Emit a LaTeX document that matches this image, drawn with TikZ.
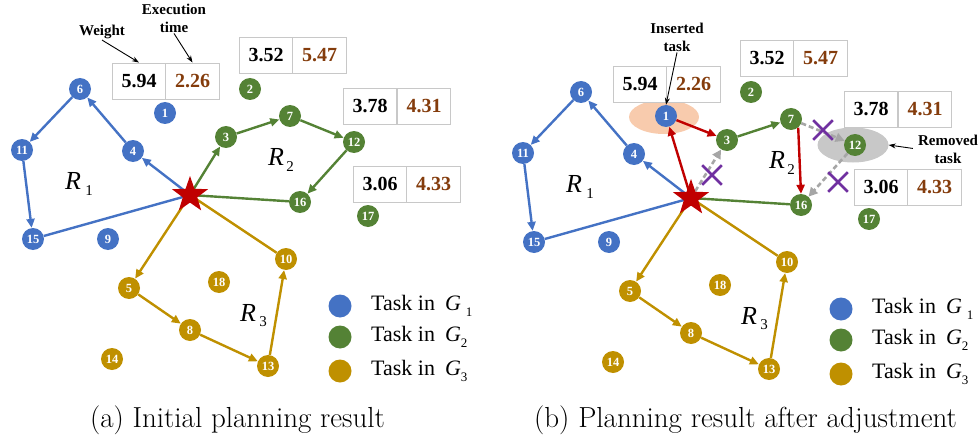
\documentclass[tikz,border=0pt]{standalone}
\usepackage{fontspec}
\newfontfamily\tnr{Liberation Serif}
\usetikzlibrary{shapes.geometric,shapes.misc,arrows.meta}
\definecolor{cb}{RGB}{68,114,196}
\definecolor{cg}{RGB}{84,130,53}
\definecolor{cy}{RGB}{191,144,0}
\definecolor{cr}{RGB}{192,0,0}
\definecolor{cbr}{RGB}{132,60,12}
\definecolor{cor}{RGB}{248,203,173}
\definecolor{cgy}{RGB}{200,200,200}
\definecolor{cdash}{RGB}{166,166,166}
\definecolor{cpu}{RGB}{112,48,160}
\definecolor{cbox}{RGB}{200,200,200}
\pgfdeclarelayer{back}
\pgfdeclarelayer{edges}
\pgfsetlayers{back,edges,main}
\tikzset{
 tk/.style={circle, minimum size=22pt, inner sep=0pt, text=white, font=\tnr\bfseries\fontsize{12.5}{12.5}\selectfont},
 tb/.style={tk, fill=cb}, tg/.style={tk, fill=cg}, ty/.style={tk, fill=cy},
 arr/.style={-{Triangle[length=9pt,width=8pt]}},
 eb/.style={draw=cb, line width=2.4pt},
 eg/.style={draw=cg, line width=2.4pt},
 ey/.style={draw=cy, line width=2.4pt},
 er/.style={draw=cr, line width=2.4pt, arr},
 edash/.style={draw=cdash, line width=2.6pt, dash pattern=on 5pt off 3pt, -{Triangle[length=9pt,width=9pt]}},
 cellw/.style={draw=cbox, line width=0.9pt, fill=white, minimum width=53.5pt, minimum height=36pt, inner sep=0pt, font=\tnr\bfseries\fontsize{20}{20}\selectfont},
 cellt/.style={cellw, text=cbr},
 depot/.style={star, star points=5, star point ratio=2.5, fill=cr, minimum size=38pt, inner sep=0pt},
 rlab/.style={font=\tnr\itshape\fontsize{26}{26}\selectfont, inner sep=0pt},
 rsub/.style={font=\tnr\fontsize{15}{15}\selectfont, inner sep=0pt},
 legdot/.style={circle, minimum size=23pt, inner sep=0pt},
 legtxt/.style={anchor=west, inner sep=0pt, font=\tnr\fontsize{22}{22}\selectfont},
 lbl/.style={font=\tnr\bfseries\fontsize{15}{18}\selectfont, align=center, inner sep=1pt},
 thinarr/.style={draw=black, line width=0.9pt, -{Stealth[length=7pt,width=5pt]}},
 xmark/.style={cross out, draw=cpu, line width=2.6pt, minimum size=17pt, inner sep=0pt},
 capt/.style={font=\fontsize{29}{32}\selectfont, inner sep=0pt}
}
\newcommand\panelcommon{%
 \node[depot] (dep) at (190,195) {};
 \node[tb] (n1) at (165,113) {1};
 \node[tg] (n2) at (250,89) {2};
 \node[tg] (n3) at (226,137) {3};
 \node[tb] (n4) at (133,151) {4};
 \node[ty] (n5) at (129,288) {5};
 \node[tb] (n6) at (80,89) {6};
 \node[tg] (n7) at (290,116) {7};
 \node[ty] (n8) at (190,330) {8};
 \node[tb] (n9) at (108,239) {9};
 \node[ty] (n10) at (286,259) {10};
 \node[tb] (n11) at (22,150) {11};
 \node[tg] (n12) at (354,142) {12};
 \node[ty] (n13) at (268,366) {13};
 \node[ty] (n14) at (112,359) {14};
 \node[tb] (n15) at (33,239) {15};
 \node[tg] (n16) at (300,202) {16};
 \node[tg] (n17) at (368,216) {17};
 \node[ty] (n18) at (219,282) {18};
 \node[cellw] (b1w) at (139,81) {5.94};
 \node[cellt] (b1t) at (192.5,81) {2.26};
 \node[cellw] (b2w) at (266,55.5) {3.52};
 \node[cellt] (b2t) at (319.5,55.5) {5.47};
 \node[cellw] (b3w) at (370,106) {3.78};
 \node[cellt] (b3t) at (424,106) {4.31};
 \node[cellw] (b4w) at (380,184) {3.06};
 \node[cellt] (b4t) at (433.5,184) {4.33};
 \node[rlab] (r1) at (73,181) {R};
 \node[rsub] (r1s) at (89,191) {1};
 \node[rlab] (r2) at (276,157) {R};
 \node[rsub] (r2s) at (290,167) {2};
 \node[rlab] (r3) at (248,313) {R};
 \node[rsub] (r3s) at (263,322) {3};
 \node[legdot, fill=cb] (l1) at (340,306) {};
 \node[legdot, fill=cg] (l2) at (340,337) {};
 \node[legdot, fill=cy] (l3) at (340,371) {};
 \node[legtxt] (lt1) at (371,306) {Task in\hspace{10pt}{\itshape G}\hspace{5pt}\raisebox{-6pt}{\fontsize{13}{13}\selectfont 1}};
 \node[legtxt] (lt2) at (371,337) {Task in\hspace{10pt}{\itshape G}\raisebox{-6pt}{\fontsize{13}{13}\selectfont 2}};
 \node[legtxt] (lt3) at (371,371) {Task in\hspace{10pt}{\itshape G}\raisebox{-6pt}{\fontsize{13}{13}\selectfont 3}};
 \begin{pgfonlayer}{edges}
  \draw[eb,arr] (dep.center) -- (n4);
  \draw[eb,arr] (n4) -- (n6);
  \draw[eb,arr] (n6) -- (n11);
  \draw[eb,arr] (n11) -- (n15);
  \draw[eb] (n15) -- (dep.center);
  \draw[ey,arr] (dep.center) -- (n5);
  \draw[ey,arr] (n5) -- (n8);
  \draw[ey,arr] (n8) -- (n13);
  \draw[ey,arr] (n13) -- (n10);
  \draw[ey] (n10) -- (dep.center);
  \draw[eg,arr] (n3) -- (n7);
  \draw[eg] (n16) -- (dep.center);
 \end{pgfonlayer}
}
\begin{document}
\begin{tikzpicture}[x=1pt,y=-1pt]
\useasboundingbox (0,0) rectangle (979,441);
% panel (a)
\begin{scope}[name prefix=a-]
 \panelcommon
 \begin{pgfonlayer}{edges}
  \draw[eg,arr] (dep.center) -- (n3);
  \draw[eg,arr] (n7) -- (n12);
  \draw[eg,arr] (n12) -- (n16);
 \end{pgfonlayer}
 \node[lbl] (wl) at (102,32) {Weight};
 \node[lbl] (el) at (174,18) {Execution\\time};
 \draw[thinarr] (wl.south) -- (b1w.north);
 \draw[thinarr] (el.south) -- (b1t.north);
\end{scope}
% panel (b)
\begin{scope}[shift={(501,3)}, name prefix=b-]
 \panelcommon
 \begin{pgfonlayer}{back}
  \node[ellipse, fill=cor, minimum width=70pt, minimum height=34pt, inner sep=0pt] (insell) at (163,114) {};
  \node[ellipse, fill=cgy, minimum width=71pt, minimum height=35pt, inner sep=0pt] (rem) at (352,142) {};
 \end{pgfonlayer}
 \begin{pgfonlayer}{edges}
  \draw[edash] (dep.center) -- (n3);
  \draw[er] (dep.center) -- (n1);
  \draw[er] (n1) -- (n3);
  \draw[er] (n7.-50) -- (n16.north);
  \draw[edash] (n7) -- (n12);
  \draw[edash] (n12) -- (n16);
 \end{pgfonlayer}
 \node[xmark] (x1) at (211,172) {};
 \node[xmark] (x2) at (322,127) {};
 \node[xmark] (x3) at (337,179) {};
 \node[lbl] (il) at (176,34) {Inserted\\task};
 \draw[thinarr] (il.south) -- (n1.north);
 \node[lbl] (rl) at (447,146) {Removed\\task};
 \draw[thinarr, shorten <=4pt] (rl.west) -- (rem.east);
\end{scope}
\node[capt] (capa) at (237.5,420) {(a) Initial planning result};
\node[capt] (capb) at (745.5,420) {(b) Planning result after adjustment};
\end{tikzpicture}
\end{document}
